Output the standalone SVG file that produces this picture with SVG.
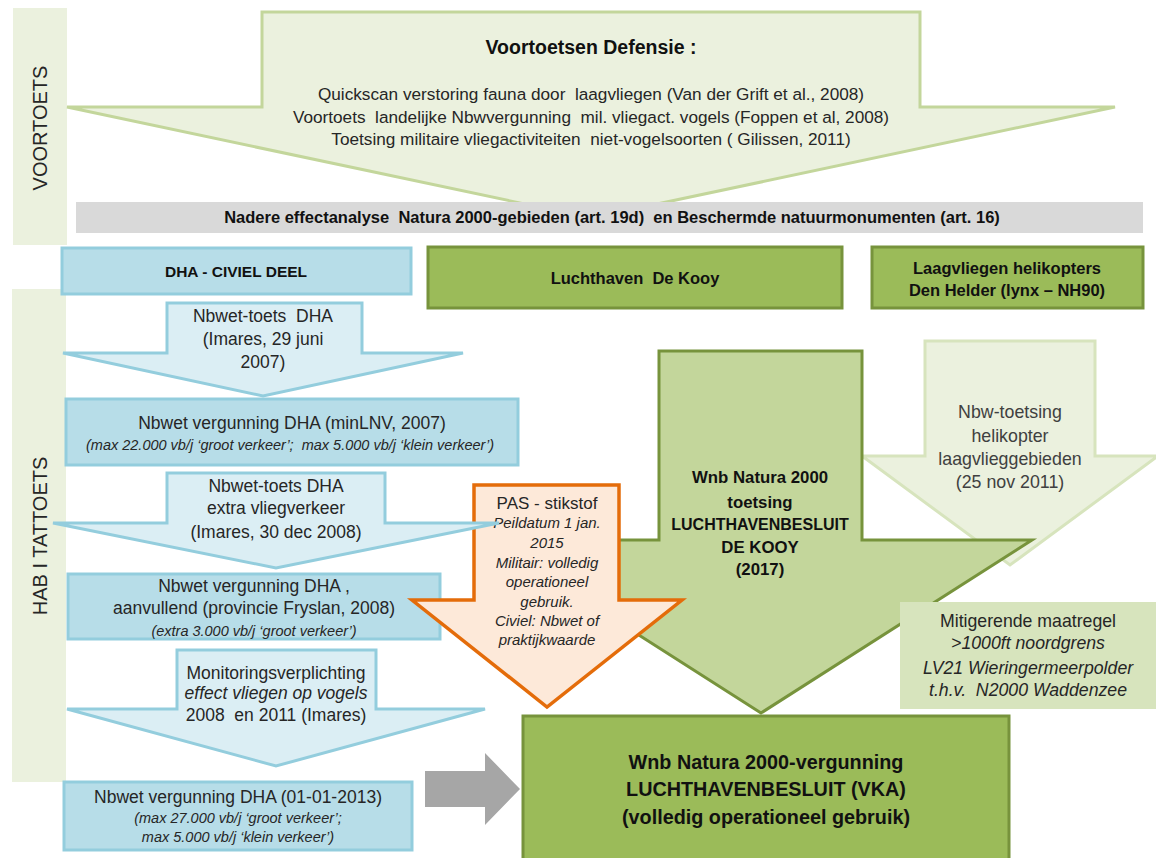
<svg xmlns="http://www.w3.org/2000/svg" width="1156" height="858" viewBox="0 0 1156 858">
<style>
text{font-family:"Liberation Sans",Arial,sans-serif;fill:#262626;text-anchor:middle;white-space:pre}
.b{font-weight:bold;fill:#111}
.i{font-style:italic}
.side{fill:#ebf1de}
.bluebox{fill:#b7dde8;stroke:#93cddd;stroke-width:3}
.bluearrow{fill:#dbeef4;stroke:#93cddd;stroke-width:3;stroke-linejoin:miter}
.greenbox{fill:#9bbb59;stroke:#77933c;stroke-width:3}
</style>
<rect width="1156" height="858" fill="#fff"/>
<g id="voortoets-bar"><rect class="side" x="13" y="8" width="54" height="237"/><text transform="translate(47,128) rotate(-90)" font-size="20">VOORTOETS</text></g>
<g id="hab-bar"><rect class="side" x="12" y="289" width="54" height="493"/><text transform="translate(47,536) rotate(-90)" font-size="20">HAB I TATTOETS</text></g>
<g id="voortoetsen-defensie">
<path d="M262,12 L920,12 L920,107 L1115,107 L591,218 L67,107 L262,107 Z" fill="#ebf1de" stroke="#c3d69b" stroke-width="3"/>
<text class="b" x="591" y="54" font-size="19.5">Voortoetsen Defensie :</text>
<text x="591" y="100" font-size="17.2">Quickscan verstoring fauna door  laagvliegen (Van der Grift et al., 2008)</text>
<text x="591" y="123" font-size="17.2">Voortoets  landelijke Nbwvergunning  mil. vliegact. vogels (Foppen et al, 2008)</text>
<text x="591" y="145" font-size="17.2">Toetsing militaire vliegactiviteiten  niet-vogelsoorten ( Gilissen, 2011)</text>
</g>
<g id="nadere-effectanalyse"><rect x="76" y="202" width="1067" height="31" fill="#d9d9d9"/><text class="b" x="612" y="223" font-size="16.5">Nadere effectanalyse  Natura 2000-gebieden (art. 19d)  en Beschermde natuurmonumenten (art. 16)</text></g>
<g id="dha-civiel"><rect class="bluebox" x="62" y="248" width="349" height="46"/><text class="b" x="236" y="277" font-size="15.5">DHA - CIVIEL DEEL</text></g>
<g id="luchthaven"><rect class="greenbox" x="428" y="247" width="414" height="61"/><text class="b" x="635" y="284" font-size="16.5">Luchthaven  De Kooy</text></g>
<g id="laagvliegen"><rect class="greenbox" x="872" y="247" width="271" height="61"/><text class="b" x="1007" y="274" font-size="16.5">Laagvliegen helikopters</text><text class="b" x="1007" y="296" font-size="16.5">Den Helder (lynx – NH90)</text></g>
<g id="nbw-toetsing-heli">
<path d="M925,341 L1095,341 L1095,456 L1158,456 L1010,565 L862,456 L925,456 Z" fill="#ebf1de" stroke="#d7e4bd" stroke-width="3"/>
<text x="1010" y="418" font-size="17.8" style="fill:#404040">Nbw-toetsing</text>
<text x="1010" y="442" font-size="17.8" style="fill:#404040">helikopter</text>
<text x="1010" y="465" font-size="17.8" style="fill:#404040">laagvlieggebieden</text>
<text x="1010" y="488" font-size="17.8" style="fill:#404040">(25 nov 2011)</text>
</g>
<g id="wnb-toetsing">
<path d="M659,351 L862,351 L862,540 L1032,540 L761,713 L490,540 L659,540 Z" fill="#c3d69b" stroke="#77933c" stroke-width="3"/>
<text class="b" x="760" y="483" font-size="16.8">Wnb Natura 2000</text>
<text class="b" x="760" y="508" font-size="16.8">toetsing</text>
<text class="b" x="760" y="530" font-size="16">LUCHTHAVENBESLUIT</text>
<text class="b" x="760" y="553" font-size="16.8">DE KOOY</text>
<text class="b" x="760" y="575" font-size="16.8">(2017)</text>
</g>
<g id="mitigerende"><rect x="900" y="602" width="256" height="107" fill="#d7e4bd"/>
<text x="1028" y="627" font-size="17.7">Mitigerende maatregel</text>
<text class="i" x="1028" y="649" font-size="17.7">&gt;1000ft noordgrens</text>
<text class="i" x="1028" y="674" font-size="17.7">LV21 Wieringermeerpolder</text>
<text class="i" x="1028" y="696" font-size="17.7">t.h.v.  N2000 Waddenzee</text>
</g>
<g id="vergunning-2007"><rect class="bluebox" x="66" y="399" width="452" height="66"/><text x="292" y="429" font-size="17.5">Nbwet vergunning DHA (minLNV, 2007)</text><text class="i" x="290" y="450" font-size="14.5">(max 22.000 vb/j ‘groot verkeer’;  max 5.000 vb/j ‘klein verkeer’)</text></g>
<g id="vergunning-2008"><rect class="bluebox" x="68" y="574" width="372" height="65"/><text x="254" y="592" font-size="17.5">Nbwet vergunning DHA ,</text><text x="254" y="614" font-size="17.5">aanvullend (provincie Fryslan, 2008)</text><text class="i" x="254" y="636" font-size="14.5">(extra 3.000 vb/j ‘groot verkeer’)</text></g>
<g id="pas-stikstof">
<path d="M474,485 L619,485 L619,600 L682,600 L547,707 L412,600 L474,600 Z" fill="#fde9d9" stroke="#e46c0a" stroke-width="3.5"/>
<text x="547" y="509" font-size="17">PAS - stikstof</text>
<text class="i" x="547" y="528" font-size="15">Peildatum 1 jan.</text>
<text class="i" x="547" y="548" font-size="15">2015</text>
<text class="i" x="547" y="568" font-size="15">Militair: volledig</text>
<text class="i" x="547" y="587" font-size="15">operationeel</text>
<text class="i" x="547" y="607" font-size="15">gebruik.</text>
<text class="i" x="547" y="626" font-size="15">Civiel: Nbwet of</text>
<text class="i" x="547" y="645" font-size="15">praktijkwaarde</text>
</g>
<g id="toets-2007"><path class="bluearrow" d="M167,303 L362,303 L362,353 L463,353 L263,396 L63,353 L167,353 Z"/><text x="263" y="322" font-size="17.5">Nbwet-toets  DHA</text><text x="263" y="345" font-size="17.5">(Imares, 29 juni</text><text x="263" y="368" font-size="17.5">2007)</text></g>
<g id="toets-2008"><path class="bluearrow" d="M167,473 L385,473 L385,523 L499,523 L276,568 L53,523 L167,523 Z"/><text x="276" y="492" font-size="17.5">Nbwet-toets DHA</text><text x="276" y="514" font-size="17.5">extra vliegverkeer</text><text x="276" y="538" font-size="17.5">(Imares, 30 dec 2008)</text></g>
<g id="monitoring"><path class="bluearrow" d="M177,650 L376,650 L376,709 L485,709 L276,766 L67,709 L177,709 Z"/><text x="276" y="679" font-size="17.5">Monitoringsverplichting</text><text class="i" x="276" y="699" font-size="17.5">effect vliegen op vogels</text><text x="276" y="721" font-size="17.5">2008  en 2011 (Imares)</text></g>
<g id="vergunning-2013"><rect class="bluebox" x="64" y="782" width="348" height="68"/><text x="238" y="803" font-size="17.5">Nbwet vergunning DHA (01-01-2013)</text><text class="i" x="238" y="823" font-size="14.5">(max 27.000 vb/j ‘groot verkeer’;</text><text class="i" x="238" y="842" font-size="14.5">max 5.000 vb/j ‘klein verkeer’)</text></g>
<g id="wnb-vergunning"><rect class="greenbox" x="523" y="716" width="486" height="150"/>
<text class="b" x="766" y="769" font-size="19.8">Wnb Natura 2000-vergunning</text>
<text class="b" x="766" y="796" font-size="19.8">LUCHTHAVENBESLUIT (VKA)</text>
<text class="b" x="766" y="824" font-size="19.8">(volledig operationeel gebruik)</text>
</g>
<g id="connectors"><path d="M425,771 L485,771 L485,753 L520,789 L485,825 L485,807 L425,807 Z" fill="#a6a6a6"/></g>
</svg>
